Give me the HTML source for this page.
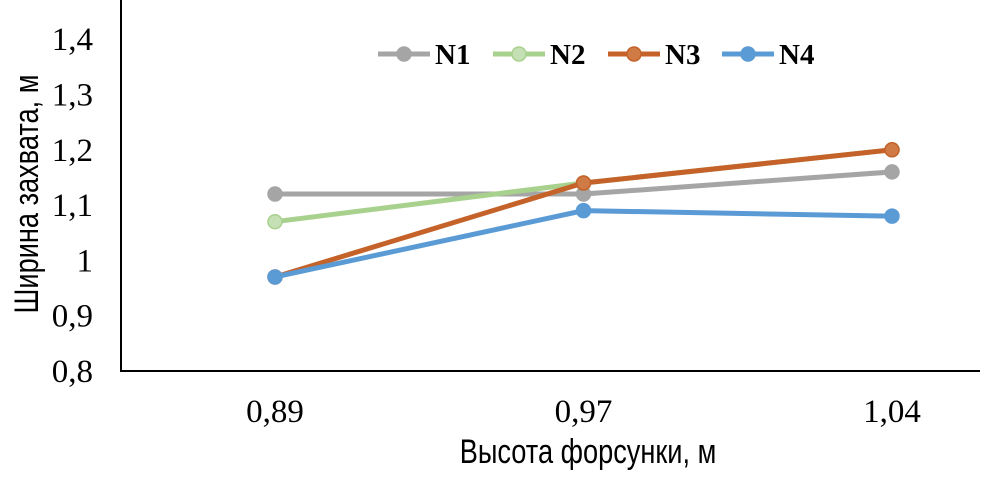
<!DOCTYPE html>
<html><head><meta charset="utf-8"><style>
body{margin:0;background:#fff;}
.ser{font-family:"Liberation Serif","Times New Roman",serif;fill:#000;}
.san{font-family:"Liberation Sans",Arial,sans-serif;fill:#000;}
</style></head><body>
<svg width="989" height="479" xmlns="http://www.w3.org/2000/svg">
<g id="axes"></g>
<g id="series"></g>
<g id="legend"></g>
</svg>
<script>
const categories=["0,89","0,97","1,04"];
const yTicks=[0.8,0.9,1,1.1,1.2,1.3,1.4];
const yTickLabels=["0,8","0,9","1","1,1","1,2","1,3","1,4"];
const seriesNames=["N1","N2","N3","N4"];
const n1=[1.12,1.12,1.16];
const n2=[1.07,1.14,1.2];
const n3=[0.97,1.14,1.2];
const n4=[0.97,1.09,1.08];
const seriesData=[n1,n2,n3,n4];
const colors=["#A5A5A5","#A9D18E","#C5622A","#5B9BD5"];
const markerFill=["#A5A5A5","#C5E0B4","#D07A45","#5B9BD5"];
const NS="http://www.w3.org/2000/svg";
const X0=121,X1=980,Y0=371;
function xPos(i){return 275+i*308.5;}
function yPos(v){return Y0-(v-0.8)*553;}
function mk(tag,attrs,parent,txt){const e=document.createElementNS(NS,tag);for(const k in attrs)e.setAttribute(k,attrs[k]);if(txt!==undefined)e.textContent=txt;parent.appendChild(e);return e;}
const axes=document.getElementById('axes');
let e=mk('line',{x1:X0,y1:0,x2:X0,y2:Y0+1,stroke:'#000','stroke-width':2},axes);


e=mk('line',{x1:X0,y1:Y0,x2:X1,y2:Y0,stroke:'#000','stroke-width':2},axes);


yTicks.forEach((v,i)=>{const t=mk('text',{x:93,y:yPos(v)+11,'text-anchor':'end','class':'ser',style:'font-size:33px'},axes,yTickLabels[i]);

});
categories.forEach((c,i)=>{const t=mk('text',{x:xPos(i),y:422,'text-anchor':'middle','class':'ser',style:'font-size:33px'},axes,c);

});
e=mk('text',{x:0,y:0,'text-anchor':'middle','class':'san',style:'font-size:34px',transform:'translate(38,194) rotate(-90) scale(0.8,1)'},axes,'Ширина захвата, м');


e=mk('text',{x:0,y:0,'text-anchor':'middle','class':'san',style:'font-size:34px',transform:'translate(588,463) scale(0.8,1)'},axes,'Высота форсунки, м');


const sg=document.getElementById('series');
seriesData.forEach((d,s)=>{
 const pts=d.map((v,i)=>xPos(i)+','+yPos(v)).join(' ');
 const pl=mk('polyline',{points:pts,fill:'none',stroke:colors[s],'stroke-width':5,'stroke-linejoin':'round'},sg);
 
 
 d.forEach((v,i)=>{const c=mk('circle',{cx:xPos(i),cy:yPos(v),r:7,fill:markerFill[s],stroke:colors[s],'stroke-width':1.5},sg);
 
 });
});
const lg=document.getElementById('legend');
const lx=[378,493,608,722];
seriesNames.forEach((n,s)=>{
 const g=mk('g',{},lg);
 
 
 mk('line',{x1:lx[s],y1:54,x2:lx[s]+52,y2:54,stroke:colors[s],'stroke-width':5},g);
 mk('circle',{cx:lx[s]+26,cy:54,r:7,fill:markerFill[s],stroke:colors[s],'stroke-width':1.5},g);
 mk('text',{x:lx[s]+57,y:64,'class':'ser',style:'font-size:29px;font-weight:bold'},g,n);
});
</script>
</body></html>
